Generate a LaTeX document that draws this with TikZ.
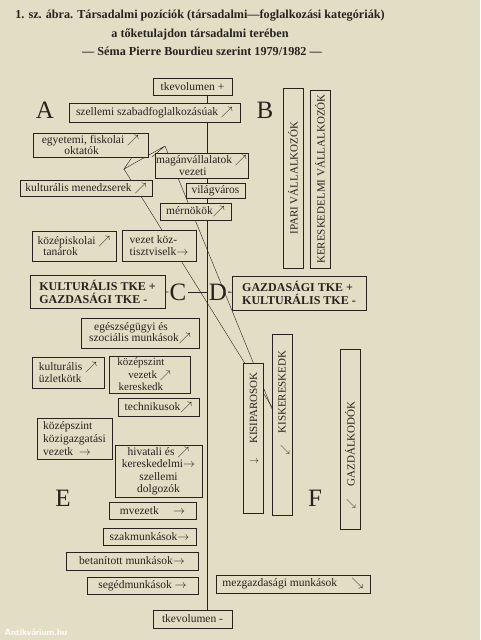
\documentclass[tikz,border=0pt]{standalone}
\usepackage{fontspec}
\setmainfont{Liberation Serif}
\usetikzlibrary{positioning}
\definecolor{paper}{RGB}{226,222,198}
\definecolor{ink}{RGB}{38,34,30}

\begin{document}
\begin{tikzpicture}[x=1pt, y=-1pt,
  box/.style={draw=ink, fill=paper, thick, inner sep=1pt, text=ink, align=center,
    font=\fontsize{11.5}{11.5}\selectfont},
  vbox/.style={draw=ink, fill=paper, thick, minimum width=20pt, inner sep=0pt},
  vtext/.style={rotate=90, text=ink, inner sep=0pt, font=\fontsize{11}{11}\selectfont},
  quarter/.style={text=ink, inner sep=1pt, font=\fontsize{25}{25}\selectfont},
  title/.style={text=ink, font=\bfseries\fontsize{12.2}{13}\selectfont},
  rule/.style={draw=ink, thick}]
\fill[paper] (0,0) rectangle (480,640);
\useasboundingbox (0,0) rectangle (480,640);

% title
\node[title] (t1) at (200,16) {1. sz. ábra. Társadalmi pozíciók (társadalmi—foglalkozási kategóriák)};
\node[title] (t2) at (200,34) {a tőketulajdon társadalmi terében};
\node[title] (t3) at (202,51) {— Séma Pierre Bourdieu szerint 1979/1982 —};

% axis
\node[box, minimum width=79, minimum height=17] (tkplus) at (192.5,86.5) {tkevolumen +};
\node[box, minimum width=79, minimum height=18] (tkminus) at (192.5,619) {tkevolumen -};
\coordinate (axx) at (207,0);
\draw[rule] (tkplus.south -| axx) -- (tkminus.north -| axx);

% trajectories
\coordinate (egyarr) at (143,141);
\coordinate (apex) at (124,169);
\coordinate (tip) at (165,146);
\coordinate (bend) at (152,157);
\coordinate (end1) at (290,453);
\coordinate (end2) at (272,407);
\draw[ink, thin] (egyarr) -- (apex) -- (tip) -- (bend);
\draw[ink, thin] (tip) -- (end1);
\draw[ink, thin] (apex) -- (end2);

% A
\node[quarter] (A) at (45,110) {A};
\node[box, minimum width=171, minimum height=19] (szell) at (154.5,112.5) {szellemi szabadfoglalkozásúak $\nearrow$};
\node[box, minimum width=115, minimum height=24] (egyet) at (90.5,145) {egyetemi, fiskolai $\nearrow$\\oktatók\phantom{mm}};
\node[box, minimum width=93, minimum height=25] (magan) at (201.5,165.5) {magánvállalatok $\nearrow$\\vezeti\phantom{kok}};
\node[box, minimum width=132, minimum height=16] (kultmen) at (86,188) {kulturális menedzserek $\nearrow$};
\node[box, minimum width=59, minimum height=15] (vilag) at (215.5,190.5) {világváros};
\node[box, minimum width=71, minimum height=17] (mernok) at (195.5,211.5) {mérnökök$\nearrow$};
\node[box, minimum width=84, minimum height=30] (kozisk) at (74,246) {középiskolai $\nearrow$\\tanárok\phantom{mmm}};
\node[box, minimum width=74, minimum height=31, align=left] (vezkoz) at (159,245.5) {vezet köz-\\tisztviselk$\rightarrow$};

% B
\node[quarter] (B) at (265,110) {B};
\node[vbox, minimum height=180] (ipari) at (293,178) {};
\node[vtext] (ipari-t) at (ipari) {IPARI VÁLLALKOZÓK};
\node[vbox, minimum height=178] (keresk) at (320,179) {};
\node[vtext] (keresk-t) at (keresk) {KERESKEDELMI VÁLLALKOZÓK};

% C / D
\node[box, minimum width=135, minimum height=33, align=left, font=\bfseries\fontsize{12}{13}\selectfont] (kultplus) at (97.5,291.5) {KULTURÁLIS TKE +\\GAZDASÁGI TKE -};
\node[quarter] (C) at (178,292) {C};
\node[quarter] (D) at (218,292) {D};
\node[box, minimum width=134, minimum height=34, align=left, font=\bfseries\fontsize{12}{13}\selectfont] (gazdplus) at (299,293) {GAZDASÁGI TKE +\\KULTURÁLIS TKE -};
\draw[rule] (kultplus) -- (C);
\draw[rule] (C) -- (D);
\draw[rule] (D) -- (gazdplus);

% E
\node[box, minimum width=118, minimum height=30] (egesz) at (140,333) {egészségügyi és\phantom{mm}\\szociális munkások$\nearrow$};
\node[box, minimum width=72, minimum height=31, align=left] (kultuz) at (68,372.5) {kulturális $\nearrow$\\üzletkötk};
\node[box, minimum width=81, minimum height=37, font=\fontsize{11}{12.5}\selectfont] (kozvez) at (149.5,374.5) {középszint\phantom{mm}\\vezetk $\nearrow$\\kereskedk\phantom{mm}};
\node[box, minimum width=81, minimum height=18] (techn) at (158.5,407) {technikusok$\nearrow$};
\node[box, minimum width=75, minimum height=41, align=left, font=\fontsize{11.5}{13}\selectfont] (kozig) at (74.5,438.5) {középszint\\közigazgatási\\vezetk \ $\rightarrow$};
\node[box, minimum width=87, minimum height=52, font=\fontsize{11.5}{12.5}\selectfont] (hivat) at (158.5,471) {hivatali és $\nearrow$\\kereskedelmi$\rightarrow$\\szellemi\\dolgozók};
\node[quarter] (E) at (63,498) {E};
\node[box, minimum width=87, minimum height=17] (mvez) at (152.5,510.5) {mvezetk \quad$\rightarrow$};
\node[box, minimum width=93, minimum height=17] (szak) at (149.5,536.5) {szakmunkások$\rightarrow$};
\node[box, minimum width=132, minimum height=18] (betan) at (132,561) {betanított munkások$\rightarrow$};
\node[box, minimum width=111, minimum height=17] (seged) at (142.5,585.5) {segédmunkások $\rightarrow$};

% F
\node[vbox, minimum height=150] (kisip) at (253.5,438) {};
\node[vtext] (kisip-t) at (253.5,408) {KISIPAROSOK};
\node[text=ink, inner sep=0pt] (kisip-a) at (254,462) {$\rightarrow$};
\node[vbox, minimum height=181] (kisker) at (282,424.5) {};
\node[vtext] (kisker-t) at (282,392) {KISKERESKEDK};
\node[text=ink, inner sep=0pt] (kisker-a) at (285,450) {$\searrow$};
\node[quarter] (F) at (315,498) {F};
\node[vbox, minimum height=180] (gazdalk) at (350,439) {};
\node[vtext] (gazdalk-t) at (350,444) {GAZDÁLKODÓK};
\node[text=ink, inner sep=0pt] (gazdalk-a) at (351,504) {$\searrow$};
\node[box, minimum width=154, minimum height=18] (mezg) at (293,584) {mezgazdasági munkások \quad$\searrow$};

% watermark
\node[text=white, font=\sffamily\bfseries\fontsize{9}{9}\selectfont, anchor=west] (wm) at (1,632) {Antikvárium.hu};
\end{tikzpicture}
\end{document}
